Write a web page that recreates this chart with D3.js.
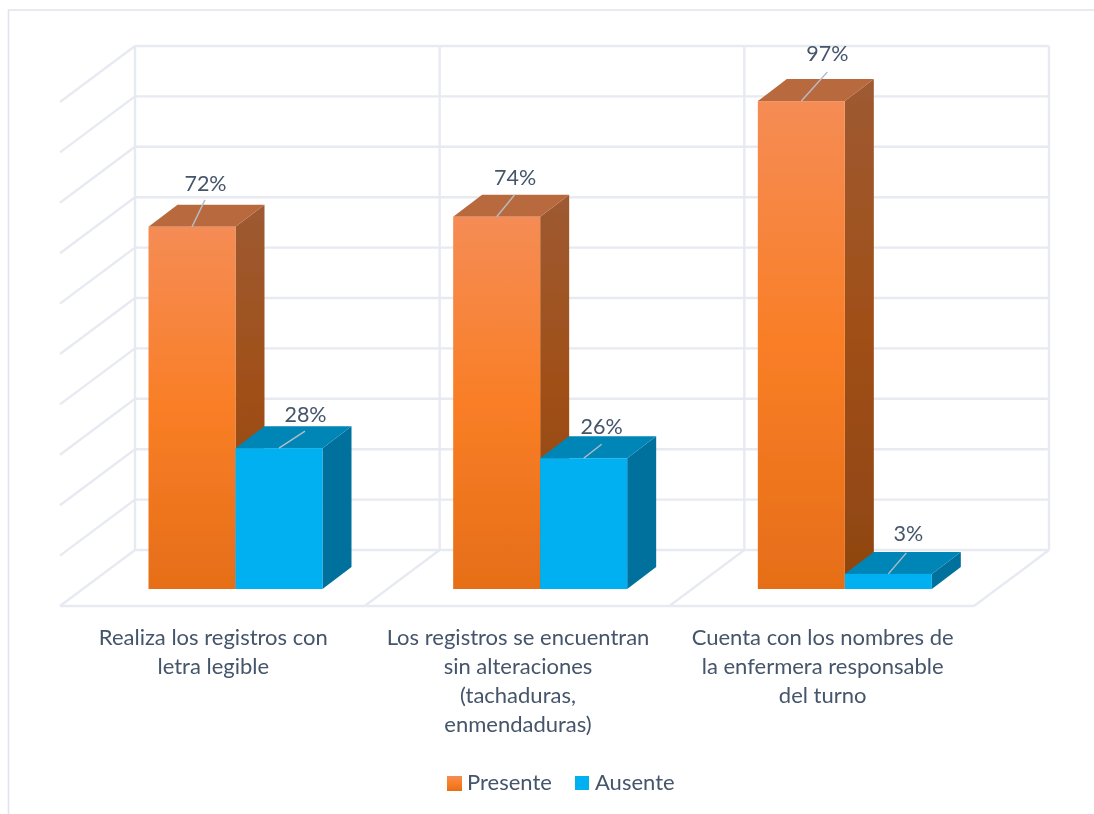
<!DOCTYPE html>
<html><head><meta charset="utf-8">
<script src="https://cdn.jsdelivr.net/npm/d3@7"></script>
<style>html,body{margin:0;background:#fff}svg{display:block}text{font-family:Lato,"Open Sans",sans-serif;fill:#44546A;font-size:22px}</style>
</head><body><svg id="c" width="1094" height="814"></svg>
<script>
const categories=[["Realiza los registros con","letra legible"],["Los registros se encuentran","sin alteraciones","(tachaduras,","enmendaduras)"],["Cuenta con los nombres de","la enfermera responsable","del turno"]];
const seriesNames=["Presente","Ausente"];
const presente=[72,74,97];
const ausente=[28,26,3];
const gridTicks=d3.range(0,101,10);

const svg=d3.select("#c");
const W=1094,H=814;
const wallX=d3.scaleLinear([0,3],[135,1049]);
const wallY=d3.scaleLinear([0,100],[550,46]);
const barY=d3.scaleLinear([0,100],[589,86]);
const group=d3.scaleBand().domain([0,1,2]).range([135,1049]).paddingInner(0).paddingOuter(0);
const sub=d3.scaleBand().domain([0,1]).range([13.5,187.5]);
const depth={dx:-75,dy:56}, bd={dx:29,dy:-22};

const defs=svg.append("defs");
function grad(id,stops){const g=defs.append("linearGradient").attr("id",id).attr("x1",0).attr("x2",0).attr("y1",0).attr("y2",1);
 stops.forEach(([o,c])=>g.append("stop").attr("offset",o).attr("stop-color",c));}
grad("oF",[[0,"#F58C55"],[.5,"#F97E26"],[1,"#E66E18"]]);
grad("oS",[[0,"#9E5A32"],[.5,"#A04F17"],[1,"#8E4510"]]);
defs.append("filter").attr("id","soft").append("feGaussianBlur").attr("stdDeviation",0.45);
defs.append("filter").attr("id","softT").append("feGaussianBlur").attr("stdDeviation",0.3);

svg.append("path").attr("d",`M1094,10H8.5V${H}`).attr("fill","none").attr("stroke","#E1E4EB").attr("stroke-width",1.6);

const grid=svg.append("g").attr("fill","none").attr("stroke","#E7EAF0").attr("stroke-width",2.4).attr("filter","url(#soft)");
gridTicks.forEach(t=>{
 const y=wallY(t);
 grid.append("line").attr("x1",wallX(0)).attr("x2",wallX(3)).attr("y1",y).attr("y2",y);
 if(t>0) grid.append("line").attr("x1",wallX(0)).attr("y1",y).attr("x2",wallX(0)+depth.dx).attr("y2",y+depth.dy);
});
d3.range(0,4).forEach(i=>{
 const x=wallX(i);
 grid.append("line").attr("x1",x).attr("x2",x).attr("y1",wallY(100)).attr("y2",wallY(0));
 grid.append("line").attr("x1",x).attr("y1",wallY(0)).attr("x2",x+depth.dx).attr("y2",wallY(0)+depth.dy);
});
grid.append("line").attr("x1",wallX(0)+depth.dx).attr("x2",wallX(3)+depth.dx).attr("y1",wallY(0)+depth.dy).attr("y2",wallY(0)+depth.dy);

const rows=[];
categories.forEach((c,i)=>{rows.push({i,s:0,v:presente[i]});rows.push({i,s:1,v:ausente[i]});});
const bars=svg.append("g").attr("filter","url(#soft)");
const bar=bars.selectAll("g").data(rows).join("g");
const bx=d=>group(d.i)+sub(d.s), bw=sub.bandwidth();
bar.append("path").attr("fill",d=>d.s?"#00709C":"url(#oS)").attr("d",d=>{
 const x=bx(d)+bw,t=barY(d.v),b=barY(0);
 return `M${x},${t}l${bd.dx},${bd.dy}V${b+bd.dy}L${x},${b}Z`;});
bar.append("path").attr("fill",d=>d.s?"#0086B6":"#B8693E").attr("d",d=>{
 const x=bx(d),t=barY(d.v);
 return `M${x},${t}l${bd.dx},${bd.dy}h${bw}l${-bd.dx},${-bd.dy}Z`;});
bar.append("rect").attr("x",bx).attr("y",d=>barY(d.v)).attr("width",bw).attr("height",d=>barY(0)-barY(d.v)).attr("fill",d=>d.s?"#00B0F0":"url(#oF)");

const labelShift=[[[13,-27],[26,-17]],[[18,-22],[18,-14]],[[26,-29],[18,-21]]];
const textUp=[[9,9],[10,10],[11,12]];
const textX=[[0.5,0.5],[0.5,0],[0,2]];
bar.each(function(d){
 const g=d3.select(this),cx=bx(d)+bw/2,t=barY(d.v),[sx,sy]=labelShift[d.i][d.s];
 g.append("line").attr("x1",cx).attr("y1",t).attr("x2",cx+sx).attr("y2",t+sy).attr("stroke","#B4BDC8").attr("stroke-width",1.4);
});
const labels=svg.append("g").attr("filter","url(#softT)");
rows.forEach(d=>{
 const cx=bx(d)+bw/2,t=barY(d.v),[sx,sy]=labelShift[d.i][d.s];
 labels.append("text").attr("x",cx+sx+textX[d.i][d.s]).attr("y",t+sy-textUp[d.i][d.s]).attr("text-anchor","middle").style("font-size","21.5px").text(d.v+"%");
});

const catG=svg.append("g").attr("filter","url(#softT)");
categories.forEach((lines,i)=>{
 const cx=wallX(i)+(wallX(1)-wallX(0))/2-74;
 lines.forEach((l,j)=>catG.append("text").attr("x",cx).attr("y",645+j*29).attr("text-anchor","middle").text(l));
});

const legendX=[447,575];
seriesNames.forEach((n,i)=>{
 svg.append("rect").attr("x",legendX[i]).attr("y",776).attr("width",i?14:15).attr("height",i?14:15).attr("fill",i?"#00B0F0":"url(#oF)");
 catG.append("text").attr("x",legendX[i]+20).attr("y",790).text(n);
});
</script></body></html>
